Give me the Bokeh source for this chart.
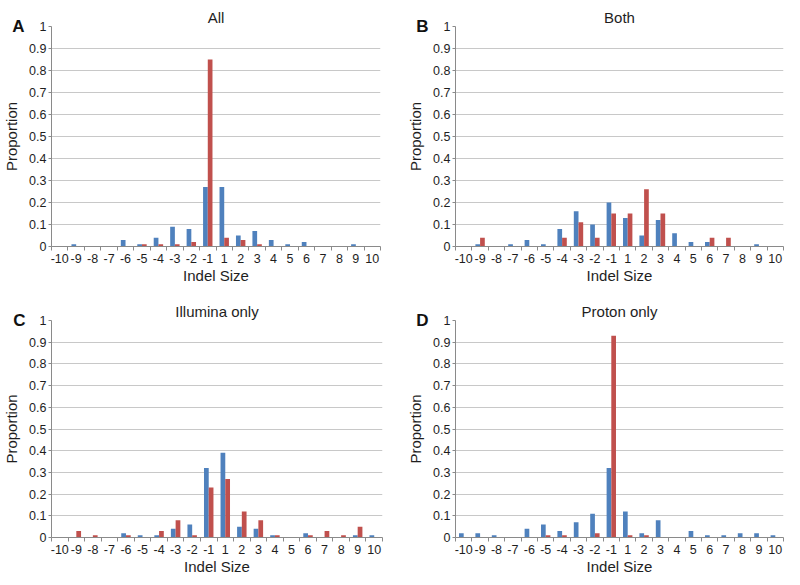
from bokeh.plotting import figure
from bokeh.layouts import row, column
from bokeh.models import ColumnDataSource, Range1d, FixedTicker, LinearAxis
from bokeh.transform import dodge
from bokeh.embed import file_html
from bokeh.resources import INLINE

# ---------------- data ----------------
categories = ["-10", "-9", "-8", "-7", "-6", "-5", "-4", "-3", "-2", "-1",
              "1", "2", "3", "4", "5", "6", "7", "8", "9", "10"]

all_blue = [0, 0.01, 0, 0, 0.03, 0.01, 0.04, 0.09, 0.08, 0.27,
            0.27, 0.05, 0.07, 0.03, 0.01, 0.02, 0, 0, 0.01, 0]
all_red = [0, 0, 0, 0, 0, 0.01, 0.01, 0.01, 0.02, 0.85,
           0.04, 0.03, 0.01, 0, 0, 0, 0, 0, 0, 0]

both_blue = [0, 0.01, 0, 0.01, 0.03, 0.01, 0.08, 0.16, 0.10, 0.20,
             0.13, 0.05, 0.12, 0.06, 0.02, 0.02, 0, 0, 0.01, 0]
both_red = [0, 0.04, 0, 0, 0, 0, 0.04, 0.11, 0.04, 0.15,
            0.15, 0.26, 0.15, 0, 0, 0.04, 0.04, 0, 0, 0]

illumina_blue = [0, 0, 0, 0, 0.02, 0.01, 0.01, 0.04, 0.06, 0.32,
                 0.39, 0.05, 0.04, 0.01, 0, 0.02, 0, 0, 0.01, 0.01]
illumina_red = [0, 0.03, 0.01, 0, 0.01, 0, 0.03, 0.08, 0.01, 0.23,
                0.27, 0.12, 0.08, 0.01, 0, 0.01, 0.03, 0.01, 0.05, 0]

proton_blue = [0.02, 0.02, 0.01, 0, 0.04, 0.06, 0.03, 0.07, 0.11, 0.32,
               0.12, 0.02, 0.08, 0, 0.03, 0.01, 0.01, 0.02, 0.02, 0.01]
proton_red = [0, 0, 0, 0, 0, 0.01, 0.01, 0, 0.02, 0.93,
              0.01, 0.01, 0, 0, 0, 0, 0, 0, 0, 0]

y_ticks = [0, 0.1, 0.2, 0.3, 0.4, 0.5, 0.6, 0.7, 0.8, 0.9, 1]
y_tick_labels = ["0", "0.1", "0.2", "0.3", "0.4", "0.5", "0.6", "0.7", "0.8", "0.9", "1"]

panel_titles = ["All", "Both", "Illumina only", "Proton only"]
panel_letters = ["A", "B", "C", "D"]
panel_series = [(all_blue, all_red), (both_blue, both_red),
                (illumina_blue, illumina_red), (proton_blue, proton_red)]

x_label = "Indel Size"
y_label = "Proportion"

# ---------------- style ----------------
BLUE = "#4F81BD"
RED = "#C0504D"
AXIS = "#8a8a8a"
GRID = "#c8c8c8"
TEXT = "#1e1e1e"
FONT = "Liberation Sans"

# layout: (width, height, left, right, top, bottom, letter standoff)
layouts = [
    (404, 290, 46, 24, 26, 44, -24),
    (380, 290, 46, 1, 26, 44, -24),
    (404, 287, 48, 22, 30, 37, -25),
    (380, 287, 46, 1, 30, 37, -24),
]

n = len(categories)
centers = [i + 0.5 for i in range(n)]
boundaries = [float(i) for i in range(n + 1)]


def make_panel(idx):
    w, h, bl, br, bt, bb, lstand = layouts[idx]
    blue, red = panel_series[idx]
    src = ColumnDataSource(dict(x=centers, cat=categories, blue=blue, red=red))
    p = figure(width=w, height=h, output_backend="svg", toolbar_location=None,
               x_range=Range1d(0, n), y_range=Range1d(0, 1),
               min_border_left=bl, min_border_right=br,
               min_border_top=bt, min_border_bottom=bb,
               title=panel_titles[idx])
    p.outline_line_color = None
    p.background_fill_color = "white"
    p.border_fill_color = "white"

    bw = 0.286
    p.vbar(x=dodge("x", -bw / 2), top="blue", width=bw, bottom=0,
           source=src, fill_color=BLUE, line_color=None)
    p.vbar(x=dodge("x", bw / 2), top="red", width=bw, bottom=0,
           source=src, fill_color=RED, line_color=None)

    # title
    p.title.align = "center"
    p.title.text_font = FONT
    p.title.text_font_size = "15px"
    p.title.text_font_style = "normal"
    p.title.text_color = TEXT
    p.title.standoff = 2
    p.title.offset = 0

    # x axis
    xa = p.xaxis[0]
    xa.ticker = FixedTicker(ticks=centers, minor_ticks=boundaries)
    xa.major_label_overrides = {c: lab for c, lab in zip(centers, categories)}
    xa.major_tick_out = 0
    xa.major_tick_in = 0
    xa.minor_tick_out = 4
    xa.minor_tick_in = 0
    xa.minor_tick_line_color = AXIS
    xa.axis_line_color = AXIS
    xa.major_label_text_font = FONT
    xa.major_label_text_font_size = "12.5px"
    xa.major_label_text_color = TEXT
    xa.major_label_standoff = 3
    xa.axis_label = x_label
    xa.axis_label_text_font = FONT
    xa.axis_label_text_font_size = "15px"
    xa.axis_label_text_font_style = "normal"
    xa.axis_label_text_color = TEXT
    xa.axis_label_standoff = 1

    # y axis
    ya = p.yaxis[0]
    ya.ticker = FixedTicker(ticks=y_ticks)
    ya.major_label_overrides = {v: s for v, s in zip(y_ticks, y_tick_labels)}
    ya.major_tick_out = 3
    ya.major_tick_in = 0
    ya.minor_tick_out = 0
    ya.minor_tick_in = 0
    ya.major_tick_line_color = AXIS
    ya.axis_line_color = AXIS
    ya.major_label_text_font = FONT
    ya.major_label_text_font_size = "12.5px"
    ya.major_label_text_color = TEXT
    ya.major_label_standoff = 2
    ya.axis_label = y_label
    ya.axis_label_text_font = FONT
    ya.axis_label_text_font_size = "15px"
    ya.axis_label_text_font_style = "normal"
    ya.axis_label_text_color = TEXT
    ya.axis_label_standoff = 6

    # panel letter: an outer, line-less left axis whose single tick label
    # sits level with the top of the value axis
    top = y_ticks[-1]
    la = LinearAxis(ticker=FixedTicker(ticks=[top]),
                    major_label_overrides={top: panel_letters[idx]})
    la.axis_line_color = None
    la.major_tick_line_color = None
    la.minor_tick_line_color = None
    la.major_tick_out = 0
    la.major_tick_in = 0
    la.minor_tick_out = 0
    la.minor_tick_in = 0
    la.major_label_standoff = lstand
    la.major_label_text_font = FONT
    la.major_label_text_font_size = "17px"
    la.major_label_text_font_style = "bold"
    la.major_label_text_color = "#111111"
    p.add_layout(la, "left")

    # grid
    p.xgrid.grid_line_color = None
    p.ygrid.ticker = FixedTicker(ticks=y_ticks)
    p.ygrid.grid_line_color = GRID
    p.ygrid.grid_line_width = 1
    return p


panels = [make_panel(i) for i in range(4)]
layout = column(row(panels[0], panels[1]), row(panels[2], panels[3]))

open("out.html", "w").write(file_html(layout, INLINE))
